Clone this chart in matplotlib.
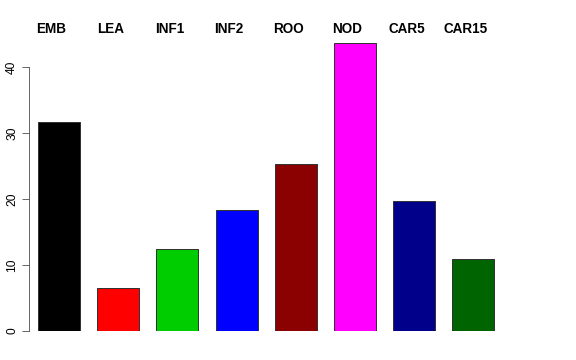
import matplotlib
matplotlib.use("Agg")
import matplotlib.pyplot as plt

categories = ["EMB", "LEA", "INF1", "INF2", "ROO", "NOD", "CAR5", "CAR15"]
values = [31.7, 6.5, 12.4, 18.3, 25.3, 43.6, 19.7, 10.9]
colors = ["#000000", "#FF0000", "#00CD00", "#0000FF", "#8B0000", "#FF00FF", "#00008B", "#006400"]
yticks = [0, 10, 20, 30, 40]

plt.rcParams['font.family'] = ['Liberation Sans', 'DejaVu Sans']

W, H = 576, 360
fig = plt.figure(figsize=(8, 5), dpi=72)
left_px, right_px, bottom_px, top_px = 29, 530, 331, 40
ax = fig.add_axes([left_px / W, 1 - bottom_px / H, (right_px - left_px) / W, (bottom_px - top_px) / H])

x = list(range(len(categories)))
ax.bar(x, values, width=0.71, color=colors, edgecolor="#333333", linewidth=1.0)

px_per_unit = 59.2
ax.set_xlim((left_px - 59) / px_per_unit, (right_px - 59) / px_per_unit)
ax.set_ylim(0, (bottom_px - top_px) / 6.6)

for s in ["top", "right", "bottom"]:
    ax.spines[s].set_visible(False)
ax.spines["left"].set_bounds(0, 40)
ax.spines["left"].set_color("#444444")
ax.set_xticks([])
ax.set_yticks(yticks)
ax.set_yticklabels([str(t) for t in yticks], rotation=90, va="center", fontsize=12)
ax.tick_params(axis="y", length=7, color="#444444", pad=4)

for i, c in enumerate(categories):
    ax.text(i - 0.127, (bottom_px - 29) / 6.6,
            c, ha="center", va="center", fontweight="bold", fontsize=13.5, clip_on=False)

fig.savefig("out.png", dpi=72)
